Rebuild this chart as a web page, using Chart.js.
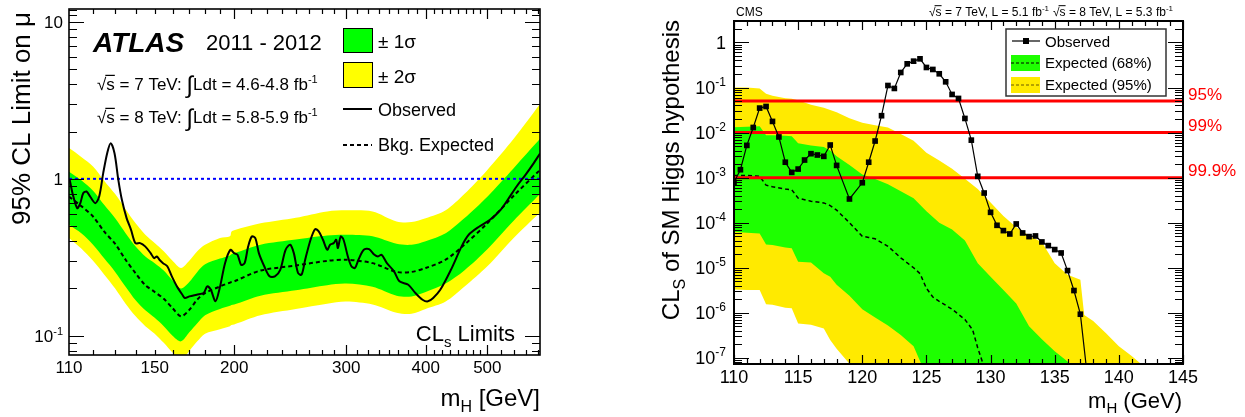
<!DOCTYPE html>
<html><head><meta charset="utf-8">
<script src="https://cdn.jsdelivr.net/npm/chart.js@4.4.1/dist/chart.umd.min.js"></script>
<style>
html,body{margin:0;padding:0;background:#fff;}
#wrap{position:relative;width:1245px;height:417px;overflow:hidden;background:#fff;}
#c1{position:absolute;left:0;top:0;}
#c2{position:absolute;left:660px;top:0;}
</style></head><body>
<div id="wrap"><canvas id="c1" width="560" height="417"></canvas><canvas id="c2" width="585" height="417"></canvas></div>
<script>
// ---------------- ATLAS (left) data ----------------
const atlasBandMass = [110,115,120,125,130,135,140,145,150,155,160,165,170,175,180,190,197,198,200,220,250,280,300,330,360,380,400,430,460,500,550,605];
const atlasExpected = [0.77,0.67,0.575,0.46,0.385,0.305,0.25,0.21,0.19,0.172,0.15,0.133,0.146,0.17,0.187,0.206,0.218,0.22,0.222,0.26,0.28,0.30,0.305,0.29,0.255,0.255,0.27,0.305,0.38,0.52,0.78,1.14];
const atlasGreenHi  = [1.11,0.98,0.84,0.68,0.56,0.45,0.37,0.32,0.29,0.26,0.225,0.20,0.22,0.255,0.285,0.31,0.325,0.33,0.335,0.38,0.41,0.435,0.44,0.43,0.385,0.38,0.40,0.45,0.56,0.77,1.17,1.8];
const atlasGreenLo  = [0.51,0.45,0.38,0.31,0.255,0.205,0.168,0.145,0.13,0.115,0.10,0.092,0.105,0.12,0.135,0.148,0.155,0.157,0.158,0.18,0.195,0.21,0.215,0.205,0.18,0.178,0.19,0.215,0.26,0.355,0.54,0.8];
const atlasYellowHi = [1.57,1.38,1.2,0.97,0.80,0.64,0.52,0.44,0.39,0.345,0.30,0.27,0.30,0.345,0.38,0.42,0.43,0.46,0.47,0.52,0.565,0.62,0.63,0.62,0.535,0.53,0.56,0.63,0.80,1.14,1.8,3.0];
const atlasYellowLo = [0.42,0.36,0.30,0.245,0.20,0.16,0.133,0.115,0.103,0.09,0.078,0.07,0.08,0.092,0.103,0.11,0.115,0.117,0.118,0.135,0.148,0.16,0.165,0.158,0.14,0.138,0.148,0.165,0.205,0.277,0.42,0.61];
const atlasObsMass = [110.3,111.4,113.3,114.6,115.8,117.2,118.7,121.0,122.7,124.5,126.3,127.9,129.7,131.5,133.2,135.5,137.7,139.9,142.3,144.9,147.8,149.7,151.2,152.6,154.6,157.0,159.6,162.6,165.8,167.3,170.1,174.6,179.1,181.4,183.8,186.9,189.8,193.5,197.3,199.9,202.4,205.1,207.7,210.4,213.2,215.9,218.7,223.0,227.3,231.8,236.3,240.9,245.0,248.2,252.0,255.3,258.6,263.7,268.1,271.6,275.8,280.1,283.0,286.7,289.3,291.1,294.1,297.1,301.8,305.7,309.6,313.6,319.7,325.9,332.3,336.6,341.0,347.6,356.7,363.7,375.6,385.4,395.5,403.2,411.0,421.7,438.3,455.6,467.4,485.8,504.9,524.7,538.3,555.9,574.0,588.9,605];
const atlasObserved = [0.985,0.81,0.65,0.70,0.81,0.83,0.772,0.70,0.772,1.087,1.457,1.687,1.457,0.985,0.735,0.562,0.473,0.389,0.389,0.371,0.336,0.312,0.32,0.305,0.29,0.277,0.239,0.206,0.1825,0.174,0.178,0.1825,0.187,0.206,0.196,0.1655,0.201,0.29,0.353,0.336,0.328,0.283,0.29,0.371,0.429,0.419,0.336,0.277,0.239,0.239,0.263,0.353,0.38,0.336,0.251,0.245,0.305,0.409,0.478,0.462,0.409,0.353,0.38,0.389,0.409,0.362,0.429,0.409,0.32,0.277,0.270,0.305,0.353,0.356,0.328,0.32,0.328,0.29,0.257,0.222,0.211,0.187,0.1695,0.1655,0.174,0.196,0.263,0.371,0.44,0.497,0.548,0.635,0.735,0.894,1.06,1.228,1.45];
const atlasXTicks = [110,150,200,300,400,500];
const atlasYTicks = [10,1,0.1];
const atlasYTickLabels = [['10',''],['1',''],['10','-1']];

// ---------------- CMS (right) data ----------------
const cmsBandMass = [110,111,112,112.5,113,114,114.5,115,116,117,117.5,118,119,120,121,122,123,124,125,126,127,128,129,130,131,132,133,134,135,136,137,137.3,138,139,140,141,142,145];
const cmsYellowHi = [0.1,0.1,0.0955,0.0724,0.066,0.0575,0.0562,0.0525,0.0417,0.0355,0.0316,0.0282,0.0209,0.0166,0.0145,0.0129,0.0093,0.0066,0.00355,0.0024,0.00158,0.00095,0.00056,0.00028,0.000141,7.9e-5,5.2e-5,3.7e-5,1.26e-5,7e-6,5.4e-6,8.9e-7,6.6e-7,3.5e-7,1.8e-7,1.1e-7,6.3e-8,3e-9];
const cmsGreenHi  = [0.0132,0.0135,0.0138,0.0087,0.0087,0.0085,0.0083,0.0058,0.0052,0.0048,0.0040,0.0030,0.0019,0.00117,0.00093,0.00071,0.0005,0.00035,0.00018,0.0001,7.1e-5,4.0e-5,1.26e-5,6.3e-6,3.2e-6,1.6e-6,5.0e-7,2.6e-7,1.4e-7,8.3e-8,3e-8,2.5e-8,1e-8,1e-9,1e-9,1e-9,1e-9,1e-9];
const cmsGreenLo  = [6.3e-5,6.0e-5,5.75e-5,3.3e-5,3.2e-5,2.8e-5,2.7e-5,1.35e-5,1.3e-5,7.5e-6,6.3e-6,4.2e-6,2.4e-6,1.2e-6,7.9e-7,5.2e-7,3.2e-7,1.8e-7,4e-8,5e-9,1e-9,1e-9,1e-9,1e-9,1e-9,1e-9,1e-9,1e-9,1e-9,1e-9,1e-9,1e-9,1e-9,1e-9,1e-9,1e-9,1e-9,1e-9];
const cmsYellowLo = [3.3e-6,3.2e-6,3.2e-6,1.55e-6,1.5e-6,1.3e-6,1.26e-6,5.8e-7,5.4e-7,4.5e-7,2.5e-7,1.6e-7,7.4e-8,2e-8,5e-9,1e-9,1e-9,1e-9,1e-9,1e-9,1e-9,1e-9,1e-9,1e-9,1e-9,1e-9,1e-9,1e-9,1e-9,1e-9,1e-9,1e-9,1e-9,1e-9,1e-9,1e-9,1e-9,1e-9];
const cmsExpMass = [110,111,112,112.5,113,114,114.5,115,116,117,117.5,118,119,120,120.5,121,122,123,124,124.5,125,125.5,126,127,128,128.6,129,129.4,129.8];
const cmsExpected = [1.12e-3,1.12e-3,1.07e-3,6.8e-4,6.3e-4,5.6e-4,5.4e-4,3.5e-4,3.0e-4,2.75e-4,2.4e-4,1.9e-4,1.0e-4,5.0e-5,4.7e-5,4.4e-5,3.0e-5,1.66e-5,1.0e-5,7.4e-6,3.5e-6,2.24e-6,1.8e-6,1.2e-6,7.1e-7,4.2e-7,1.66e-7,7.6e-8,2e-8];
const cmsObsMass = [110,110.5,111,111.5,112,112.5,113,113.5,114,114.5,115,115.5,116,116.5,117,117.5,118,119,120,120.5,121,121.5,122,122.5,123,123.5,124,124.5,125,125.5,126,126.5,127,127.5,128,128.5,129,129.5,130,130.5,131,131.5,132,132.5,133,133.5,134,134.5,135,135.5,136,136.5,137,137.5];
const cmsObserved = [7.9e-4,1.5e-3,5.2e-3,1.3e-2,3.5e-2,3.8e-2,1.77e-2,8.0e-3,2.2e-3,1.31e-3,1.55e-3,2.46e-3,3.4e-3,3.18e-3,2.97e-3,5.3e-3,1.87e-3,3.36e-4,7.7e-4,2.2e-3,6.5e-3,2.37e-2,0.111,0.0955,0.216,0.336,0.385,0.434,0.279,0.252,0.202,0.134,0.0703,0.0573,0.0206,6.8e-3,1.07e-3,4.56e-4,1.70e-4,8.75e-5,6.67e-5,5.62e-5,9.38e-5,5.92e-5,4.91e-5,5.08e-5,3.74e-5,3.10e-5,2.53e-5,2.13e-5,8.65e-6,3.12e-6,9.3e-7,5e-8];
const cmsCLLevels = [0.05,0.01,0.001];
const cmsCLLabels = ['95%','99%','99.9%'];
const cmsYTicks = [1,0.1,0.01,0.001,1e-4,1e-5,1e-6,1e-7];
const cmsYTickLabels = [['1',''],['10','-1'],['10','-2'],['10','-3'],['10','-4'],['10','-5'],['10','-6'],['10','-7']];

// ---------------- helpers ----------------
const FF = "'Liberation Sans', Arial, Helvetica, sans-serif";
Chart.defaults.font.family = FF;
Chart.defaults.color = '#000';
function fnt(p){ return (p.f ? p.f + ' ' : '') + p.s + 'px ' + (p.fam || FF); }
function rich(ctx, x, y, parts, align){
  let w = 0;
  for (const p of parts){ ctx.font = fnt(p); w += ctx.measureText(p.t).width + (p.gap||0); }
  let cx = align === 'right' ? x - w : (align === 'center' ? x - w/2 : x);
  ctx.textAlign = 'left'; ctx.textBaseline = 'alphabetic';
  for (const p of parts){
    ctx.font = fnt(p); const tw = ctx.measureText(p.t).width;
    ctx.fillText(p.t, cx, y + (p.dy||0));
    if (p.over){ ctx.save(); ctx.strokeStyle = ctx.fillStyle; ctx.lineWidth = Math.max(1, p.s/14); ctx.beginPath(); const oy = y - p.s*0.86; ctx.moveTo(cx-1, oy); ctx.lineTo(cx+tw, oy); ctx.stroke(); ctx.restore(); }
    cx += tw + (p.gap||0);
  }
  return w;
}
const pts = (xs, ys) => xs.map((m,i)=>({x:m, y:ys[i]}));
function frameTicks(chart, c){
  const {ctx, chartArea:a} = chart; const xs = chart.scales.x, ys = chart.scales.y;
  ctx.save(); ctx.strokeStyle = '#000'; ctx.lineWidth = c.tickW;
  ctx.beginPath();
  const xt = (vals,len)=>vals.forEach(v=>{ if(v<xs.min||v>xs.max) return; const p=Math.round(xs.getPixelForValue(v))+0.5; ctx.moveTo(p,a.bottom); ctx.lineTo(p,a.bottom-len); ctx.moveTo(p,a.top); ctx.lineTo(p,a.top+len); });
  const yt = (vals,len)=>vals.forEach(v=>{ if(v<ys.min||v>ys.max) return; const p=Math.round(ys.getPixelForValue(v))+0.5; ctx.moveTo(a.left,p); ctx.lineTo(a.left+len,p); ctx.moveTo(a.right,p); ctx.lineTo(a.right-len,p); });
  xt(c.xMajor,c.xMajorLen); xt(c.xMinor,c.xMinorLen); yt(c.yMajor,c.yMajorLen); yt(c.yMinor,c.yMinorLen);
  ctx.stroke();
  ctx.lineWidth = c.frameW; ctx.strokeRect(a.left, a.top, a.right-a.left, a.bottom-a.top);
  ctx.restore();
}

// ---------------- ATLAS chart ----------------
const atlasXMinor = [120,130,140,150,160,170,180,190,212.5,225,237.5,250,262.5,275,287.5,312.5,325,337.5,350,362.5,375,387.5,412.5,425,437.5,450,462.5,475,487.5,525,550,575,600];
const atlasYMinor = [0.08,0.09,0.2,0.3,0.4,0.5,0.6,0.7,0.8,0.9,2,3,4,5,6,7,8,9,11,12];
const atlasDecor = {
  id:'atlasDecor',
  afterDraw(chart){
    const {ctx} = chart; const ys = chart.scales.y;
    frameTicks(chart,{tickW:1.2, frameW:1.6, xMajor:[200,300,400,500], xMajorLen:10, xMinor:atlasXMinor, xMinorLen:5, yMajor:atlasYTicks, yMajorLen:15, yMinor:atlasYMinor, yMinorLen:8});
    ctx.save(); ctx.fillStyle = '#000';
    atlasYTicks.forEach((v,i)=>{ const py = ys.getPixelForValue(v); const [b,e] = atlasYTickLabels[i]; const parts=[{t:b,s:17}]; if(e) parts.push({t:e,s:11,dy:-7}); rich(ctx, 63, py+6, parts, 'right'); });
    rich(ctx, 93, 52, [{t:'ATLAS', s:28, f:'italic bold'}], 'left');
    rich(ctx, 206, 50, [{t:'2011 - 2012', s:22}], 'left');
    const lumLine = (y, e, l) => rich(ctx, 97, y, [{t:'\u221A', s:17},{t:'s', s:17, over:true},{t:' = '+e+' TeV: ', s:17},{t:'\u222B', s:24, dy:3},{t:'Ldt = '+l+' fb', s:17},{t:'-1', s:11, dy:-7}], 'left');
    lumLine(90, '7', '4.6-4.8'); lumLine(123, '8', '5.8-5.9');
    // legend
    ctx.lineWidth = 1; ctx.strokeStyle = '#000';
    ctx.fillStyle = '#00ff00'; ctx.fillRect(343,28,29,24); ctx.strokeRect(343.5,28.5,29,24);
    ctx.fillStyle = '#ffff00'; ctx.fillRect(343,62,29,25); ctx.strokeRect(343.5,62.5,29,25);
    ctx.lineWidth = 2; ctx.beginPath(); ctx.moveTo(343,109); ctx.lineTo(372,109); ctx.stroke();
    ctx.setLineDash([4,3]); ctx.beginPath(); ctx.moveTo(343,145); ctx.lineTo(372,145); ctx.stroke(); ctx.setLineDash([]);
    ctx.fillStyle = '#000';
    rich(ctx, 378, 48, [{t:'\u00B1 1\u03C3', s:19}], 'left');
    rich(ctx, 378, 83, [{t:'\u00B1 2\u03C3', s:19}], 'left');
    rich(ctx, 378, 116, [{t:'Observed', s:18}], 'left');
    rich(ctx, 378, 151, [{t:'Bkg. Expected', s:18}], 'left');
    rich(ctx, 515, 341, [{t:'CL', s:22},{t:'s', s:15, dy:6},{t:' Limits', s:22}], 'right');
    rich(ctx, 540, 406, [{t:'m', s:24},{t:'H', s:16, dy:6},{t:' [GeV]', s:24}], 'right');
    ctx.translate(30, 12); ctx.rotate(-Math.PI/2);
    rich(ctx, 0, 0, [{t:'95% CL Limit on \u03BC', s:26}], 'right');
    ctx.restore();
  }
};
new Chart(document.getElementById('c1'), {
  type:'line',
  data:{ datasets:[
    {data:pts(atlasBandMass, atlasYellowHi), fill:1, backgroundColor:'#ffff00', borderColor:'rgba(0,0,0,0)', borderWidth:0, pointRadius:0, tension:0.3, order:10},
    {data:pts(atlasBandMass, atlasYellowLo), fill:false, borderColor:'rgba(0,0,0,0)', borderWidth:0, pointRadius:0, tension:0.3, order:10},
    {data:pts(atlasBandMass, atlasGreenHi), fill:3, backgroundColor:'#00ff00', borderColor:'rgba(0,0,0,0)', borderWidth:0, pointRadius:0, tension:0.3, order:9},
    {data:pts(atlasBandMass, atlasGreenLo), fill:false, borderColor:'rgba(0,0,0,0)', borderWidth:0, pointRadius:0, tension:0.3, order:9},
    {data:pts(atlasBandMass, atlasExpected), fill:false, borderColor:'#000', borderWidth:2, borderDash:[4,3], pointRadius:0, tension:0.3, order:3},
    {data:[{x:110,y:1},{x:605,y:1}], fill:false, borderColor:'#0000ff', borderWidth:2, borderDash:[3,3], pointRadius:0, order:2},
    {data:pts(atlasObsMass, atlasObserved), fill:false, borderColor:'#000', borderWidth:2, pointRadius:0, tension:0.3, order:1}
  ]},
  options:{
    responsive:false, animation:false, events:[],
    layout:{padding:{top:9, right:20, left:0, bottom:0}},
    plugins:{legend:{display:false}, tooltip:{enabled:false}},
    scales:{
      x:{type:'logarithmic', min:110, max:605,
         afterBuildTicks:(s)=>{ s.ticks = atlasXTicks.map(v=>({value:v})); },
         afterFit:(s)=>{ s.height = 62; },
         grid:{display:false, drawTicks:false}, border:{display:false},
         ticks:{callback:(v)=>String(v), font:{size:17}, color:'#000', padding:3, maxRotation:0, autoSkip:false}},
      y:{type:'logarithmic', min:0.0753, max:12.1,
         afterFit:(s)=>{ s.width = 69; },
         grid:{display:false, drawTicks:false}, border:{display:false},
         ticks:{display:false}}
    }
  },
  plugins:[atlasDecor]
});

// ---------------- CMS chart ----------------
const cmsXMajor = [110,115,120,125,130,135,140,145];
const cmsXMinor = []; for (let m=111; m<145; m++) if (m%5) cmsXMinor.push(m);
const cmsYMinor = []; for (let e=-8; e<=0; e++) for (let k=2;k<=9;k++) cmsYMinor.push(k*Math.pow(10,e));
const cmsDecor = {
  id:'cmsDecor',
  afterDatasetsDraw(chart){
    const {ctx} = chart;
    frameTicks(chart,{tickW:1.2, frameW:2, xMajor:cmsXMajor, xMajorLen:9, xMinor:cmsXMinor, xMinorLen:5, yMajor:cmsYTicks, yMajorLen:15, yMinor:cmsYMinor, yMinorLen:8});
    ctx.save();
    ctx.fillStyle='#fff'; ctx.fillRect(346,29,160,67);
    ctx.strokeStyle='#333'; ctx.lineWidth=1.5; ctx.strokeRect(346,29,160,67);
    ctx.strokeStyle='#000'; ctx.lineWidth=1.2; ctx.beginPath(); ctx.moveTo(352,41); ctx.lineTo(380,41); ctx.stroke();
    ctx.fillStyle='#000'; ctx.fillRect(363,38,6,6);
    ctx.fillStyle='#1eff00'; ctx.fillRect(351,55,29,16);
    ctx.fillStyle='#ffea00'; ctx.fillRect(351,77,29,16);
    ctx.setLineDash([3,2]); ctx.lineWidth=1;
    ctx.strokeStyle='#000'; ctx.beginPath(); ctx.moveTo(351,63); ctx.lineTo(380,63); ctx.stroke();
    ctx.strokeStyle='#6b5a00'; ctx.beginPath(); ctx.moveTo(351,85); ctx.lineTo(380,85); ctx.stroke();
    ctx.setLineDash([]);
    ctx.fillStyle='#000';
    rich(ctx, 385, 46.5, [{t:'Observed', s:15}], 'left');
    rich(ctx, 385, 67.5, [{t:'Expected (68%)', s:15}], 'left');
    rich(ctx, 385, 89.5, [{t:'Expected (95%)', s:15}], 'left');
    ctx.restore();
  },
  afterDraw(chart){
    const {ctx} = chart; const ys = chart.scales.y;
    ctx.save(); ctx.fillStyle='#000';
    cmsYTicks.forEach((v,i)=>{ const py = ys.getPixelForValue(v); const [b,e] = cmsYTickLabels[i]; const parts=[{t:b,s:18}]; if(e) parts.push({t:e,s:12,dy:-8}); rich(ctx, 66, py+6.5, parts, 'right'); });
    rich(ctx, 76, 16, [{t:'CMS', s:12}], 'left');
    rich(ctx, 513, 16, [{t:'\u221A', s:12},{t:'s', s:12, over:true},{t:' = 7 TeV, L = 5.1 fb', s:12},{t:'-1', s:8, dy:-5, gap:4},{t:'\u221A', s:12},{t:'s', s:12, over:true},{t:' = 8 TeV, L = 5.3 fb', s:12},{t:'-1', s:8, dy:-5}], 'right');
    ctx.fillStyle='#ff0000';
    cmsCLLevels.forEach((v,i)=>{ const py = ys.getPixelForValue(v); rich(ctx, 528, py-1.5, [{t:cmsCLLabels[i], s:17}], 'left'); });
    ctx.fillStyle='#000';
    rich(ctx, 522, 408, [{t:'m', s:22},{t:'H', s:15, dy:5},{t:' (GeV)', s:22}], 'right');
    ctx.translate(19, 20); ctx.rotate(-Math.PI/2);
    rich(ctx, 0, 0, [{t:'CL', s:24},{t:'S', s:16, dy:6},{t:' of SM Higgs hypothesis', s:24}], 'right');
    ctx.restore();
  }
};
const clDatasets = cmsCLLevels.map(v=>({data:[{x:110,y:v},{x:145,y:v}], fill:false, borderColor:'#ff0000', borderWidth:3, pointRadius:0, order:2}));
new Chart(document.getElementById('c2'), {
  type:'line',
  data:{ datasets:[
    {data:pts(cmsBandMass, cmsYellowHi), fill:1, backgroundColor:'#ffea00', borderColor:'rgba(0,0,0,0)', borderWidth:0, pointRadius:0, tension:0, order:10},
    {data:pts(cmsBandMass, cmsYellowLo), fill:false, borderColor:'rgba(0,0,0,0)', borderWidth:0, pointRadius:0, tension:0, order:10},
    {data:pts(cmsBandMass, cmsGreenHi), fill:3, backgroundColor:'#1eff00', borderColor:'rgba(0,0,0,0)', borderWidth:0, pointRadius:0, tension:0, order:9},
    {data:pts(cmsBandMass, cmsGreenLo), fill:false, borderColor:'rgba(0,0,0,0)', borderWidth:0, pointRadius:0, tension:0, order:9},
    {data:pts(cmsExpMass, cmsExpected), fill:false, borderColor:'#000', borderWidth:1.5, borderDash:[4,3], pointRadius:0, tension:0, order:3},
    ...clDatasets,
    {data:pts(cmsObsMass, cmsObserved), fill:false, borderColor:'#000', borderWidth:1.2, pointRadius:4, pointStyle:'rect', pointBackgroundColor:'#000', pointBorderWidth:0, tension:0, order:1}
  ]},
  options:{
    responsive:false, animation:false, events:[],
    layout:{padding:{top:21, right:62, left:0, bottom:0}},
    plugins:{legend:{display:false}, tooltip:{enabled:false}},
    scales:{
      x:{type:'linear', min:110, max:145,
         afterBuildTicks:(s)=>{ s.ticks = cmsXMajor.map(v=>({value:v})); },
         afterFit:(s)=>{ s.height = 53; },
         grid:{display:false, drawTicks:false}, border:{display:false},
         ticks:{callback:(v)=>String(v), font:{size:18}, color:'#000', padding:3, maxRotation:0, autoSkip:false}},
      y:{type:'logarithmic', min:7.3e-8, max:3,
         afterFit:(s)=>{ s.width = 74; },
         grid:{display:false, drawTicks:false}, border:{display:false},
         ticks:{display:false}}
    }
  },
  plugins:[cmsDecor]
});
</script></body></html>
